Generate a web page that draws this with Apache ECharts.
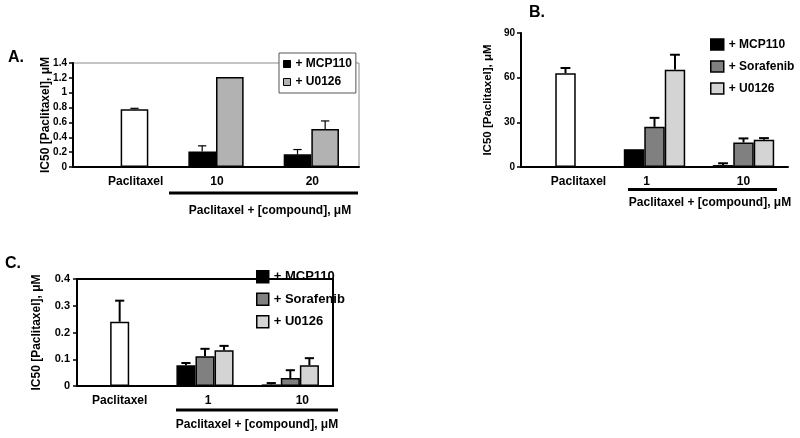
<!DOCTYPE html>
<html>
<head>
<meta charset="utf-8">
<script src="https://cdn.jsdelivr.net/npm/echarts@6/dist/echarts.min.js"></script>
<style>
html,body{margin:0;padding:0;background:#fff;}
#chart{width:800px;height:438px;}
</style>
</head>
<body>
<div id="chart"></div>
<script>
// ---------------- DATA ----------------
// Panel A
const catsA = ['Paclitaxel', '10', '20'];
const paclitaxelA = 0.777, paclitaxelErrA = 0.79;
const mcp110A = [0.21, 0.17];
const mcp110ErrA = [0.285, 0.235];
const u0126A = [1.21, 0.51];
const u0126ErrA = [null, 0.62];
const ticksA = { min: 0, max: 1.4, interval: 0.2 };

// Panel B
const catsB = ['Paclitaxel', '1', '10'];
const paclitaxelB = 63, paclitaxelErrB = 66.5;
const mcp110B = [12, 1.3];
const mcp110ErrB = [null, 2.5];
const sorafenibB = [27, 16.5];
const sorafenibErrB = [33, 19.2];
const u0126B = [65.4, 18.3];
const u0126ErrB = [75.4, 19.4];
const ticksB = { min: 0, max: 90, interval: 30 };

// Panel C
const catsC = ['Paclitaxel', '1', '10'];
const paclitaxelC = 0.24, paclitaxelErrC = 0.319;
const mcp110C = [0.0775, 0.006];
const mcp110ErrC = [0.086, 0.011];
const sorafenibC = [0.111, 0.03];
const sorafenibErrC = [0.139, 0.059];
const u0126C = [0.134, 0.0775];
const u0126ErrC = [0.15, 0.104];
const ticksC = { min: 0, max: 0.4, interval: 0.1 };

const yTitle = 'IC50 [Paclitaxel], μM';
const xTitle = 'Paclitaxel + [compound], μM';
// ---------------------------------------

const FF = 'Arial, "Liberation Sans", Helvetica, sans-serif';
const BLACK = '#000000', GRAY_A = '#b2b2b2', DARK = '#808080', LIGHT = '#d4d4d4';

function errRender(nSlots, slot, gapFrac, lw, capFrac) {
  return function (params, api) {
    const ci = api.value(0), v = api.value(1), e = api.value(2);
    if (e == null || isNaN(e)) return null;
    const W = api.size([1, 0])[0];
    const inner = W * (1 - gapFrac);
    const sw = inner / nSlots;
    const b = api.coord([ci, v]);
    const t = api.coord([ci, e]);
    const x = b[0] - inner / 2 + (slot + 0.5) * sw;
    const cap = sw * capFrac;
    const st = { stroke: '#000', lineWidth: lw };
    return {
      type: 'group',
      children: [
        { type: 'line', shape: { x1: x, y1: b[1], x2: x, y2: t[1] }, style: st },
        { type: 'line', shape: { x1: x - cap, y1: t[1], x2: x + cap, y2: t[1] }, style: st }
      ]
    };
  };
}

function errData(vals, errs, offset) {
  const out = [];
  vals.forEach((v, i) => { if (errs[i] != null) out.push([i + offset, v, errs[i]]); });
  return out;
}

function xAxisDef(gi, cats, shifts, tickLen) {
  return {
    type: 'category', gridIndex: gi,
    data: cats.map((c, i) => {
      const s = shifts[i];
      const pad = s >= 0 ? [0, 0, 0, 2 * s] : [0, -2 * s, 0, 0];
      return { value: c, textStyle: { padding: pad } };
    }),
    axisLine: { lineStyle: { color: '#000', width: 2 } },
    axisTick: { length: tickLen, lineStyle: { color: '#000', width: 1.5 } },
    axisLabel: { margin: 9, fontFamily: FF, fontWeight: 'bold', fontSize: 12, color: '#000', interval: 0 },
    splitLine: { show: false }
  };
}

function yAxisDef(gi, t, fs, gap, nfs, margin) {
  return {
    type: 'value', gridIndex: gi, min: t.min, max: t.max, interval: t.interval,
    name: yTitle, nameLocation: 'middle', nameRotate: 90, nameGap: gap, nameMoveOverlap: false,
    nameTextStyle: { fontFamily: FF, fontWeight: 'bold', fontSize: nfs, color: '#000' },
    axisLine: { show: true, lineStyle: { color: '#000', width: 2 } },
    axisTick: { show: true, length: 4, lineStyle: { color: '#000', width: 1.5 } },
    axisLabel: { margin: margin, fontFamily: FF, fontWeight: 'bold', fontSize: fs, color: '#000' },
    splitLine: { show: false }
  };
}

function barSeries(name, xi, color, data, gap) {
  return {
    type: 'bar', name: name, xAxisIndex: xi, yAxisIndex: xi,
    data: data, barGap: '0%', barCategoryGap: gap,
    itemStyle: { color: color, borderColor: '#000', borderWidth: 1.5 },
    silent: true, animation: false
  };
}
function errSeries(xi, data, n, slot, gapFrac, lw, capFrac) {
  return {
    type: 'custom', xAxisIndex: xi, yAxisIndex: xi,
    renderItem: errRender(n, slot, gapFrac, lw, capFrac),
    encode: { x: 0, y: [1, 2] }, data: data, z: 5, silent: true, animation: false
  };
}

const white = v => ({ value: v, itemStyle: { color: '#ffffff' } });

const series = [
  // A
  barSeries('+ MCP110', 0, BLACK, ['-'].concat(mcp110A), '42%'),
  barSeries('+ U0126', 0, GRAY_A, [white(paclitaxelA)].concat(u0126A), '42%'),
  errSeries(0, errData(mcp110A, mcp110ErrA, 1), 2, 0, 0.42, 1.2, 0.15),
  errSeries(0, [[0, paclitaxelA, paclitaxelErrA]].concat(errData(u0126A, u0126ErrA, 1)), 2, 1, 0.42, 1.2, 0.15),
  // B
  barSeries('+ MCP110', 1, BLACK, ['-'].concat(mcp110B), '31%'),
  barSeries('+ Sorafenib', 1, DARK, [white(paclitaxelB)].concat(sorafenibB), '31%'),
  barSeries('+ U0126', 1, LIGHT, ['-'].concat(u0126B), '31%'),
  errSeries(1, errData(mcp110B, mcp110ErrB, 1), 3, 0, 0.31, 2, 0.24),
  errSeries(1, [[0, paclitaxelB, paclitaxelErrB]].concat(errData(sorafenibB, sorafenibErrB, 1)), 3, 1, 0.31, 2, 0.24),
  errSeries(1, errData(u0126B, u0126ErrB, 1), 3, 2, 0.31, 2, 0.24),
  // C
  barSeries('+ MCP110', 2, BLACK, ['-'].concat(mcp110C), '33%'),
  barSeries('+ Sorafenib', 2, DARK, [white(paclitaxelC)].concat(sorafenibC), '33%'),
  barSeries('+ U0126', 2, LIGHT, ['-'].concat(u0126C), '33%'),
  errSeries(2, errData(mcp110C, mcp110ErrC, 1), 3, 0, 0.33, 2, 0.24),
  errSeries(2, [[0, paclitaxelC, paclitaxelErrC]].concat(errData(sorafenibC, sorafenibErrC, 1)), 3, 1, 0.33, 2, 0.24),
  errSeries(2, errData(u0126C, u0126ErrC, 1), 3, 2, 0.33, 2, 0.24)
];

function legItem(name, color, bw) {
  return { name: name, icon: 'rect', itemStyle: { color: color, borderColor: '#000', borderWidth: bw } };
}

const option = {
  animation: false,
  backgroundColor: '#ffffff',
  grid: [
    { left: 73, top: 63, width: 286, height: 104, show: true, borderColor: '#8a8a8a', borderWidth: 1, backgroundColor: '#fff' },
    { left: 521, top: 33, width: 267, height: 134 },
    { left: 77, top: 279, width: 256, height: 107, show: true, borderColor: '#000', borderWidth: 2, backgroundColor: '#fff' }
  ],
  xAxis: [
    xAxisDef(0, catsA, [15, 1, 1], 4),
    xAxisDef(1, catsB, [13, -8, 0], 7),
    xAxisDef(2, catsC, [0, 3, 12], 6)
  ],
  yAxis: [
    yAxisDef(0, ticksA, 10, 21, 12, 6),
    yAxisDef(1, ticksB, 10, 27, 11.5, 6),
    yAxisDef(2, ticksC, 11, 34, 12, 7)
  ],
  legend: [
    {
      orient: 'vertical', left: 279, top: 53, padding: [4, 4, 4, 4],
      backgroundColor: '#fff', borderColor: '#555', borderWidth: 1,
      itemWidth: 7, itemHeight: 7, itemGap: 4, selectedMode: false,
      textStyle: { fontFamily: FF, fontWeight: 'bold', fontSize: 12, color: '#000', lineHeight: 14 },
      data: [legItem('+ MCP110', BLACK, 1), legItem('+ U0126', GRAY_A, 1)]
    },
    {
      orient: 'vertical', left: 710, top: 38, padding: 0,
      itemWidth: 13, itemHeight: 11, itemGap: 9, selectedMode: false,
      textStyle: { fontFamily: FF, fontWeight: 'bold', fontSize: 12, color: '#000', lineHeight: 13 },
      data: [legItem('+ MCP110', BLACK, 1.5), legItem('+ Sorafenib', DARK, 1.5), legItem('+ U0126', LIGHT, 1.5)]
    },
    {
      orient: 'vertical', left: 256, top: 270, padding: 0,
      itemWidth: 12, itemHeight: 12, itemGap: 9, selectedMode: false,
      textStyle: { fontFamily: FF, fontWeight: 'bold', fontSize: 13, color: '#000', lineHeight: 12 },
      data: [legItem('+ MCP110', BLACK, 1.5), legItem('+ Sorafenib', DARK, 1.5), legItem('+ U0126', LIGHT, 1.5)]
    }
  ],
  graphic: [
    { type: 'text', left: 8, top: 50, style: { text: 'A.', font: 'bold 16px ' + FF, fill: '#000' } },
    { type: 'text', left: 529, top: 5, style: { text: 'B.', font: 'bold 16px ' + FF, fill: '#000' } },
    { type: 'text', left: 5, top: 256, style: { text: 'C.', font: 'bold 16px ' + FF, fill: '#000' } },
    { type: 'line', shape: { x1: 169, y1: 193, x2: 358, y2: 193 }, style: { stroke: '#000', lineWidth: 3 } },
    { type: 'line', shape: { x1: 628, y1: 189.5, x2: 777, y2: 189.5 }, style: { stroke: '#000', lineWidth: 3 } },
    { type: 'line', shape: { x1: 176, y1: 410, x2: 338, y2: 410 }, style: { stroke: '#000', lineWidth: 3 } },
    { type: 'text', x: 270, y: 211, style: { text: xTitle, font: 'bold 12px ' + FF, fill: '#000', textAlign: 'center', textVerticalAlign: 'middle' } },
    { type: 'text', x: 710, y: 203, style: { text: xTitle, font: 'bold 12px ' + FF, fill: '#000', textAlign: 'center', textVerticalAlign: 'middle' } },
    { type: 'text', x: 257, y: 425, style: { text: xTitle, font: 'bold 12px ' + FF, fill: '#000', textAlign: 'center', textVerticalAlign: 'middle' } }
  ],
  series: series
};

const chart = echarts.init(document.getElementById('chart'), null, { renderer: 'canvas' });
chart.setOption(option);
</script>
</body>
</html>
